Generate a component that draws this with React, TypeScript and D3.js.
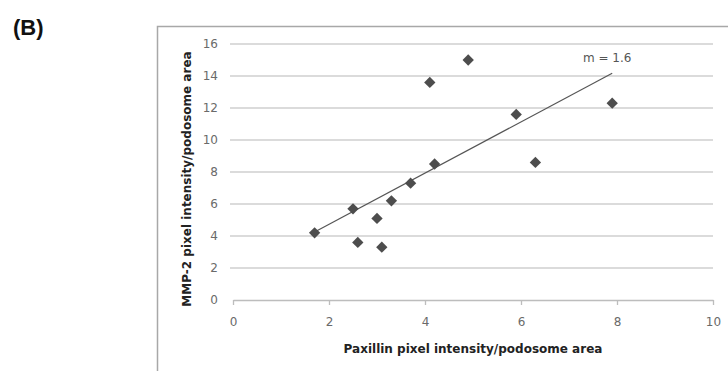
import React, { useEffect, useRef } from 'react';
import * as d3 from 'd3';

const paxillin = [1.7, 2.5, 2.6, 3.0, 3.1, 3.3, 3.7, 4.2, 4.1, 4.9, 5.9, 6.3, 7.9];
const mmp2 = [4.2, 5.7, 3.6, 5.1, 3.3, 6.2, 7.3, 8.5, 13.6, 15.0, 11.6, 8.6, 12.3];
const xTicks = [0, 2, 4, 6, 8, 10];
const yTicks = [0, 2, 4, 6, 8, 10, 12, 14, 16];

const W = 728;
const H = 371;

const App: React.FC = () => {
  const svgRef = useRef<SVGSVGElement>(null);

  useEffect(() => {
    const svg = d3.select(svgRef.current);
    svg.selectAll('*').remove();

    const font = '"DejaVu Sans", Verdana, sans-serif';
    const margin = { left: 233, right: 15, top: 44, bottom: 71 };

    const x = d3.scaleLinear().domain([0, 10]).range([margin.left, W - margin.right]);
    const y = d3.scaleLinear().domain([0, 16]).range([H - margin.bottom, margin.top]);

    // panel label
    svg.append('text')
      .attr('x', 13).attr('y', 35)
      .attr('font-family', '"Liberation Sans", Arial, sans-serif')
      .attr('font-weight', 'bold').attr('font-size', 22)
      .attr('fill', '#111')
      .text('(B)');

    // chart frame
    svg.append('rect')
      .attr('x', 157.5).attr('y', 26.5)
      .attr('width', 700).attr('height', 500)
      .attr('fill', 'none').attr('stroke', '#a8a8a8').attr('stroke-width', 1.5);

    // gridlines
    svg.append('g')
      .selectAll('line')
      .data(yTicks.filter(t => t > 0))
      .enter().append('line')
      .attr('x1', x(0) - 3).attr('x2', x(10))
      .attr('y1', d => y(d)).attr('y2', d => y(d))
      .attr('stroke', '#cfcfcf').attr('stroke-width', 1.3);

    // x axis
    const xAxis = svg.append('g')
      .attr('transform', `translate(0,${y(0)})`)
      .call(d3.axisBottom(x).tickValues(xTicks).tickSize(5).tickPadding(12).tickSizeOuter(0));
    xAxis.select('.domain').attr('stroke', '#bdbdbd').attr('stroke-width', 1.3);
    xAxis.selectAll('.tick line').attr('stroke', '#bdbdbd').attr('stroke-width', 1.3);
    xAxis.selectAll('text')
      .attr('font-family', font).attr('font-size', 12).attr('fill', '#6a6a6a');

    // y axis labels
    const yAxis = svg.append('g')
      .attr('transform', `translate(${x(0) - 3},0)`)
      .call(d3.axisLeft(y).tickValues(yTicks).tickSize(0).tickPadding(12));
    yAxis.select('.domain').remove();
    yAxis.selectAll('text')
      .attr('font-family', font).attr('font-size', 12).attr('fill', '#6a6a6a');

    // least-squares trend line
    const mx = d3.mean(paxillin)!;
    const my = d3.mean(mmp2)!;
    let sxy = 0;
    let sxx = 0;
    paxillin.forEach((v, i) => {
      sxy += (v - mx) * (mmp2[i] - my);
      sxx += (v - mx) * (v - mx);
    });
    const slope = sxy / sxx;
    const icpt = my - slope * mx;
    const [xmin, xmax] = d3.extent(paxillin) as [number, number];
    svg.append('line')
      .attr('x1', x(xmin)).attr('y1', y(icpt + slope * xmin))
      .attr('x2', x(xmax)).attr('y2', y(icpt + slope * xmax))
      .attr('stroke', '#555').attr('stroke-width', 1.2);

    svg.append('text')
      .attr('x', x(xmax) - 5).attr('y', y(icpt + slope * xmax) - 11)
      .attr('text-anchor', 'middle')
      .attr('font-family', font).attr('font-size', 12).attr('fill', '#555')
      .text(`m = ${slope.toFixed(1)}`);

    // points
    const diamond = d3.symbol().type(d3.symbolSquare).size(64);
    svg.append('g')
      .selectAll('path')
      .data(paxillin.map((v, i) => [v, mmp2[i]]))
      .enter().append('path')
      .attr('d', diamond)
      .attr('transform', d => `translate(${x(d[0])},${y(d[1])}) rotate(45)`)
      .attr('fill', '#4d4d4d');

    // axis titles
    svg.append('text')
      .attr('x', (x(0) + x(10)) / 2).attr('y', 353)
      .attr('text-anchor', 'middle')
      .attr('font-family', font).attr('font-weight', 'bold').attr('font-size', 12)
      .attr('fill', '#222')
      .text('Paxillin pixel intensity/podosome area');

    svg.append('text')
      .attr('transform', `translate(191,${179}) rotate(-90)`)
      .attr('text-anchor', 'middle')
      .attr('font-family', font).attr('font-weight', 'bold').attr('font-size', 12)
      .attr('fill', '#222')
      .text('MMP-2 pixel intensity/podosome area');
  }, []);

  return (
    <svg
      ref={svgRef}
      width={W}
      height={H}
      style={{ position: 'absolute', left: 0, top: 0, background: '#fff', display: 'block' }}
    />
  );
};

export default App;
